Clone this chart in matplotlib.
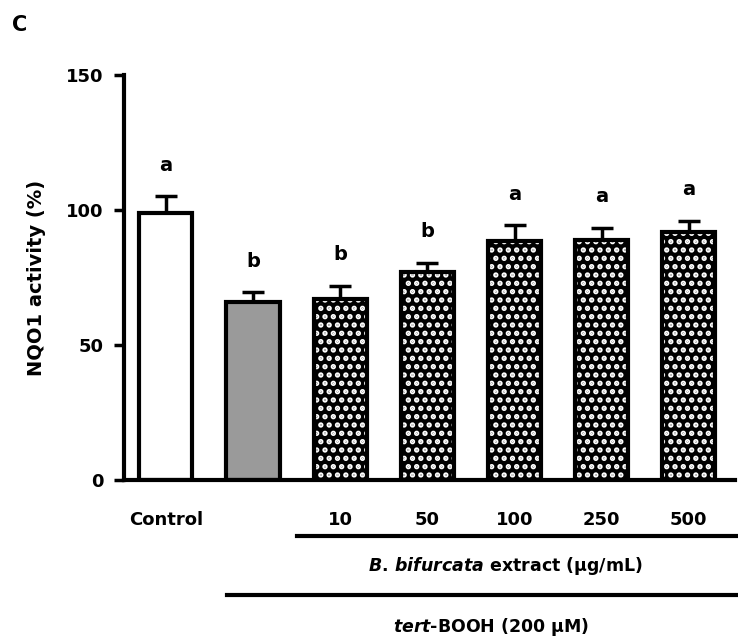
import numpy as np
import matplotlib
matplotlib.use("Agg")
import matplotlib.pyplot as plt
import matplotlib.transforms as mtransforms

plt.rcParams['font.family'] = ['DejaVu Sans']
plt.rcParams['mathtext.fontset'] = 'custom'
plt.rcParams['mathtext.it'] = 'DejaVu Sans:italic:bold'
plt.rcParams['mathtext.rm'] = 'DejaVu Sans:bold'
plt.rcParams['hatch.linewidth'] = 2.6

# data
groups = ['Control', 'tert-BOOH', '10', '50', '100', '250', '500']
tick_labels = ['Control', '', '10', '50', '100', '250', '500']
activity = [99, 66, 67, 77, 88.5, 89, 92]
sem = [6, 3.5, 5, 3.5, 5.8, 4.5, 4]
letters = ['a', 'b', 'b', 'b', 'a', 'a', 'a']
styles = ['white', 'gray', 'check', 'check', 'check', 'check', 'check']

fig = plt.figure(figsize=(7.38, 6.42), dpi=100)
ax = fig.add_axes([0.168, 0.2523, 0.828, 0.631])

x = np.arange(len(groups))
w = 0.61
for i in range(len(groups)):
    if styles[i] == 'white':
        ax.bar(x[i], activity[i], w, color='white', zorder=2)
    elif styles[i] == 'gray':
        ax.bar(x[i], activity[i], w, color='#9a9a9a', zorder=2)
    else:
        ax.bar(x[i], activity[i], w, facecolor='black', edgecolor='white',
               hatch='..', linewidth=0, zorder=2)
    ax.bar(x[i], activity[i], w, facecolor='none', edgecolor='black',
           linewidth=3, zorder=3)

ax.errorbar(x, activity, yerr=[np.zeros(len(sem)), sem], fmt='none',
            ecolor='black', elinewidth=2.5, capsize=8, capthick=2.5, zorder=1)

for i in range(len(groups)):
    ax.text(x[i], activity[i] + sem[i] + 11.5, letters[i], ha='center',
            va='center', fontsize=14, fontweight='bold')

ax.set_xlim(-0.48, 6.53)
ax.set_ylim(0, 150)
ax.set_yticks([0, 50, 100, 150])
ax.set_xticks(x)
ax.set_xticklabels(tick_labels, fontsize=13, fontweight='bold')
for lab in ax.get_yticklabels():
    lab.set_fontweight('bold')
ax.tick_params(axis='y', labelsize=13, length=7, width=2.5, pad=8)
ax.tick_params(axis='x', length=0, pad=22)
ax.spines['top'].set_visible(False)
ax.spines['right'].set_visible(False)
ax.spines['left'].set_linewidth(3)
ax.spines['bottom'].set_linewidth(3)
ax.set_ylabel('NQO1 activity (%)', fontsize=14, fontweight='bold', labelpad=14)

# group brackets under the x axis
trans = mtransforms.blended_transform_factory(ax.transData, ax.transAxes)
ax.plot([1.5, 6.6], [-0.137, -0.137], color='black', lw=3,
        transform=trans, clip_on=False)
ax.text(3.9, -0.212, r'$\it{B.\,bifurcata}$ extract (µg/mL)', ha='center',
        va='center', fontsize=12.5, fontweight='bold', transform=trans)
ax.plot([0.7, 6.6], [-0.283, -0.283], color='black', lw=3,
        transform=trans, clip_on=False)
ax.text(3.73, -0.363, r'$\it{tert}$-BOOH (200 µM)', ha='center',
        va='center', fontsize=12.5, fontweight='bold', transform=trans)

fig.text(0.027, 0.961, 'C', fontsize=15, fontweight='bold', ha='center', va='center')

fig.savefig('out.png', dpi=100)
